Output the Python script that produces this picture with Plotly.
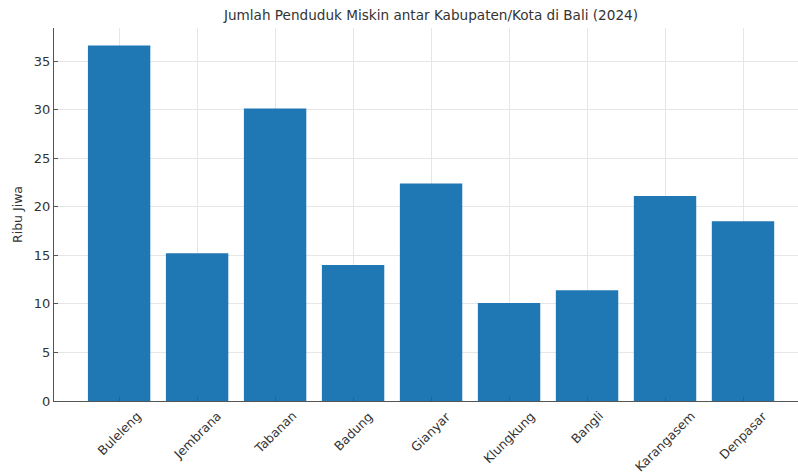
import plotly.graph_objects as go

categories = ["Buleleng", "Jembrana", "Tabanan", "Badung", "Gianyar",
              "Klungkung", "Bangli", "Karangasem", "Denpasar"]
values = [36.6, 15.2, 30.1, 14.0, 22.4, 10.1, 11.4, 21.1, 18.5]
y_ticks = [0, 5, 10, 15, 20, 25, 30, 35]

title_text = "Jumlah Penduduk Miskin antar Kabupaten/Kota di Bali (2024)"
y_title = "Ribu Jiwa"

FONT = "DejaVu Sans"
TXT = "#333333"

fig = go.Figure()
fig.add_trace(go.Bar(
    x=list(range(len(categories))),
    y=values,
    width=0.8,
    marker=dict(color="#1f77b4", line=dict(width=0)),
    hovertext=categories,
))

annotations = []
for i, name in enumerate(categories):
    annotations.append(dict(
        x=i, y=0, xref="x", yref="y",
        text=name, showarrow=False, textangle=-45,
        xanchor="center", yanchor="top", yshift=-5,
        font=dict(family=FONT, size=12.5, color=TXT),
    ))

fig.update_layout(
    width=798, height=475,
    margin=dict(l=54, r=0, t=28, b=74),
    paper_bgcolor="white", plot_bgcolor="white",
    showlegend=False,
    font=dict(family=FONT, size=12.5, color=TXT),
    title=dict(text=title_text, x=431/798, xanchor="center", xref="container",
               y=1 - 15/475, yanchor="middle", yref="container",
               font=dict(family=FONT, size=13.6, color=TXT)),
    annotations=annotations,
    bargap=0.2,
)
fig.update_xaxes(
    range=[-0.835, 8.705],
    tickvals=list(range(len(categories))),
    ticktext=[""] * len(categories),
    showgrid=True, gridcolor="#e6e6e6", gridwidth=1,
    showline=True, linecolor="#555555", linewidth=1.2,
    ticks="inside", ticklen=4, tickcolor="#555555",
    zeroline=False,
)
fig.update_yaxes(
    range=[0, 38.4],
    tickvals=y_ticks,
    showgrid=True, gridcolor="#e6e6e6", gridwidth=1,
    showline=True, linecolor="#555555", linewidth=1.2,
    ticks="inside", ticklen=4, tickcolor="#555555",
    zeroline=False,
    title=dict(text=y_title, standoff=8, font=dict(family=FONT, size=12.5, color=TXT)),
    tickfont=dict(family=FONT, size=13, color=TXT),
)

fig.write_html("out.html", config={"displayModeBar": False},
               post_script="document.body.style.margin='0';document.body.style.overflow='hidden';")
